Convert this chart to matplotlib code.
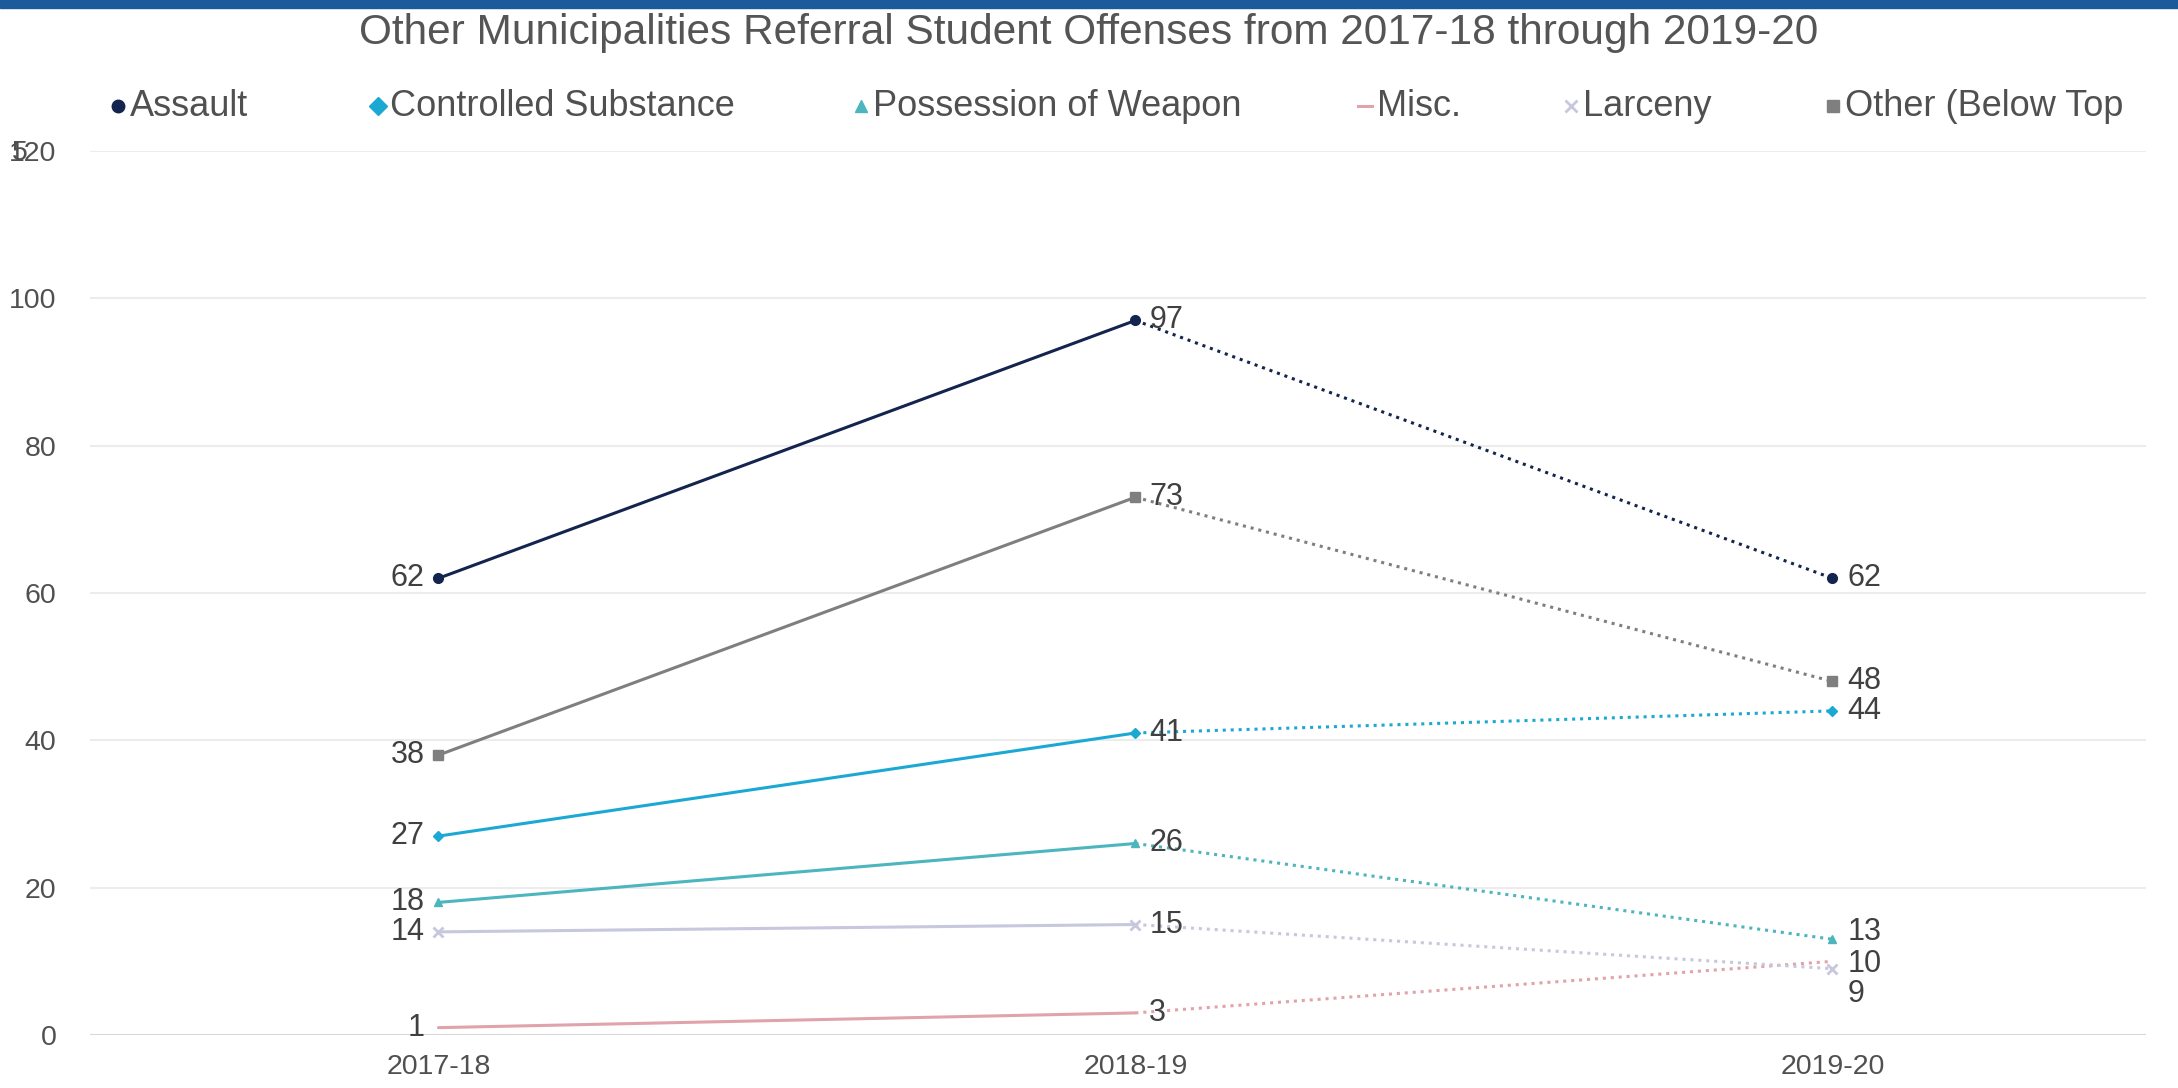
import matplotlib.pyplot as plt
import matplotlib.patches as mpatches
from matplotlib.lines import Line2D

plt.rcParams['font.family'] = ['Liberation Sans', 'DejaVu Sans']

years = ['2017-18', '2018-19', '2019-20']
series = ['Assault', 'Controlled Substance', 'Possession of Weapon', 'Misc.', 'Larceny', 'Other (Below Top']
assault = [62, 97, 62]
controlled = [27, 41, 44]
weapon = [18, 26, 13]
misc = [1, 3, 10]
larceny = [14, 15, 9]
other = [38, 73, 48]
yticks = [0, 20, 40, 60, 80, 100, 120]

colors = ['#13254f', '#1ba9d4', '#4cb5bd', '#e0a3ab', '#c7c7dd', '#7f7f7f']
markers = ['o', 'D', '^', None, 'x', 's']
msizes = [7, 5, 6, 0, 7, 7]
values = [assault, controlled, weapon, misc, larceny, other]

# label nudges (points) for crowded spots at 2019-20
nudge_last = [0, 0, 5, -2, -18, 0]

fig = plt.figure(figsize=(21.78, 10.88), dpi=100)
ax = fig.add_axes([0.0413, 0.0487, 0.944, 0.8125])
x = list(range(len(years)))

for vals, c, m, ms, nl in zip(values, colors, markers, msizes, nudge_last):
    ax.plot(x[:2], vals[:2], color=c, lw=2.2, solid_capstyle='round', zorder=3)
    ax.plot(x[1:], vals[1:], color=c, lw=2.2, ls=(0, (1, 1.6)), zorder=3)
    if m:
        ax.plot(x, vals, ls='none', marker=m, ms=ms, color=c, mew=2 if m == 'x' else 1, zorder=4)
    ax.annotate(str(vals[0]), (x[0], vals[0]), xytext=(-10, 0), textcoords='offset points',
                ha='right', va='center', fontsize=22, color='#404040')
    ax.annotate(str(vals[1]), (x[1], vals[1]), xytext=(10, 0), textcoords='offset points',
                ha='left', va='center', fontsize=22, color='#404040')
    ax.annotate(str(vals[2]), (x[2], vals[2]), xytext=(11, nl), textcoords='offset points',
                ha='left', va='center', fontsize=22, color='#404040')

ax.set_xlim(-0.5, 2.45)
ax.set_ylim(0, 120)
ax.set_yticks(yticks)
ax.set_yticklabels([str(v) for v in yticks])
ax.set_xticks(x)
ax.set_xticklabels(years)
ax.tick_params(axis='both', length=0, labelsize=20.5, labelcolor='#505050')
ax.tick_params(axis='y', pad=24)
ax.tick_params(axis='x', pad=14)
ax.grid(axis='y', color='#ececec', lw=1.5)
ax.set_axisbelow(True)
for s in ax.spines.values():
    s.set_visible(False)
ax.axhline(0, color='#d9d9d9', lw=1.5, zorder=1)

# overlapping glyph in front of the top tick label
fig.text(0.0055, 1 - 153 / 1088, '5', fontsize=20.5, color='#505050', va='center', ha='left')

# top band
fig.patches.append(mpatches.Rectangle((0, 1 - 8 / 1088), 1, 8 / 1088, transform=fig.transFigure,
                                      color='#1d5a9b', zorder=0))

fig.text(0.5, 1 - 33 / 1088, 'Other Municipalities Referral Student Offenses from 2017-18 through 2019-20',
         ha='center', va='center', fontsize=30.5, color='#555555')

# legend row
leg_marker_x = [118, 378, 861, 1365, 1571, 1833]
leg_y = 1 - 106 / 1088
for name, c, m, mx in zip(series, colors, markers, leg_marker_x):
    fx = mx / 2178
    if m:
        fig.add_artist(Line2D([fx], [leg_y], marker=m, ms=9, color=c, ls='none',
                              mew=2 if m == 'x' else 1, transform=fig.transFigure))
    else:
        fig.add_artist(Line2D([fx - 7 / 2178, fx + 7 / 2178], [leg_y, leg_y], color=c, lw=2.2,
                              transform=fig.transFigure))
    fig.text(fx + 12 / 2178, leg_y, name, ha='left', va='center', fontsize=26, color='#505050')

fig.savefig('out.png', dpi=100)
